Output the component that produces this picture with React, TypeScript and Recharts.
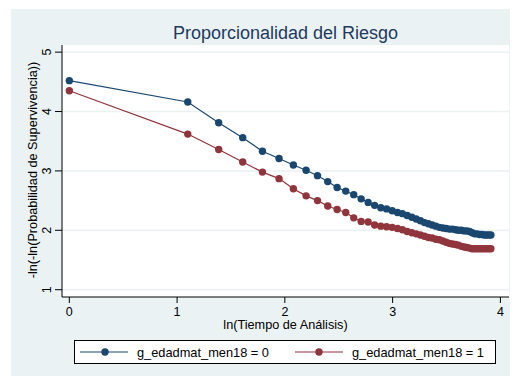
import { LineChart, Line, XAxis, YAxis, CartesianGrid } from 'recharts'

// ln(tiempo) para t = 1, 3, 4, ..., 50
const lnTiempo = [
  0, 1.099, 1.386, 1.609, 1.792, 1.946, 2.079, 2.197, 2.303, 2.398,
  2.485, 2.565, 2.639, 2.708, 2.773, 2.833, 2.890, 2.944, 2.996, 3.045,
  3.091, 3.135, 3.178, 3.219, 3.258, 3.296, 3.332, 3.367, 3.401, 3.434,
  3.466, 3.497, 3.526, 3.555, 3.584, 3.611, 3.638, 3.664, 3.689, 3.714,
  3.738, 3.761, 3.784, 3.807, 3.829, 3.850, 3.871, 3.892, 3.912,
]

// g_edadmat_men18 = 0
const grupo0 = [
  4.52, 4.16, 3.81, 3.56, 3.33, 3.21, 3.10, 3.01, 2.92, 2.82,
  2.72, 2.66, 2.60, 2.53, 2.47, 2.42, 2.38, 2.36, 2.33, 2.30,
  2.28, 2.25, 2.22, 2.19, 2.16, 2.13, 2.11, 2.09, 2.07, 2.05,
  2.04, 2.03, 2.02, 2.02, 2.01, 2.00, 2.00, 1.99, 1.99, 1.98,
  1.96, 1.94, 1.94, 1.93, 1.93, 1.92, 1.92, 1.92, 1.92,
]

// g_edadmat_men18 = 1
const grupo1 = [
  4.35, 3.62, 3.36, 3.15, 2.98, 2.87, 2.70, 2.58, 2.50, 2.41,
  2.35, 2.30, 2.21, 2.15, 2.14, 2.09, 2.07, 2.06, 2.05, 2.03,
  2.01, 1.98, 1.96, 1.94, 1.92, 1.90, 1.88, 1.87, 1.85, 1.84,
  1.82, 1.80, 1.78, 1.77, 1.76, 1.75, 1.73, 1.72, 1.71, 1.70,
  1.69, 1.69, 1.69, 1.69, 1.69, 1.69, 1.69, 1.69, 1.69,
]

const xTicks = [0, 1, 2, 3, 4]
const yTicks = [1, 2, 3, 4, 5]
const seriesNames = ['g_edadmat_men18 = 0', 'g_edadmat_men18 = 1']

const NAVY = '#1A476F'
const MAROON = '#90353B'
const FONT = '"Liberation Sans", Arial, sans-serif'

const data = lnTiempo.map((x, i) => ({ x, g0: grupo0[i], g1: grupo1[i] }))

const YTick = ({ y, payload }: any) => (
  <text
    transform={`translate(51,${y}) rotate(-90)`}
    textAnchor="middle"
    fontSize={12.5}
    fontFamily={FONT}
    fill="#000"
  >
    {payload.value}
  </text>
)

export default function App() {
  return (
    <div style={{ position: 'absolute', left: 0, top: 0, width: 516, height: 376, background: '#fff' }}>
      <div style={{ position: 'absolute', left: 11, top: 9, width: 499, height: 367, background: '#EAF2F3' }} />
      <div style={{ position: 'absolute', left: 0, top: 0 }}>
        <LineChart width={516} height={376} data={data} margin={{ top: 45, right: 7, bottom: 49, left: 0 }}>
          <CartesianGrid fill="#fff" vertical={false} stroke="#EAF2F3" strokeWidth={1.5} horizontalValues={yTicks} />
          <XAxis
            type="number"
            dataKey="x"
            domain={[-0.068, 4.08]}
            ticks={xTicks}
            allowDataOverflow
            height={30}
            tickSize={6}
            tickMargin={4}
            stroke="#000"
            tick={{ fill: '#000', fontSize: 12.5, fontFamily: FONT }}
          />
          <YAxis
            type="number"
            domain={[0.877, 5.12]}
            ticks={yTicks}
            allowDataOverflow
            width={62}
            tickSize={7}
            stroke="#000"
            tick={<YTick />}
          />
          <Line
            dataKey="g0"
            stroke={NAVY}
            strokeWidth={1.2}
            dot={{ r: 3.7, fill: NAVY, stroke: 'none' }}
            isAnimationActive={false}
          />
          <Line
            dataKey="g1"
            stroke={MAROON}
            strokeWidth={1.2}
            dot={{ r: 3.7, fill: MAROON, stroke: 'none' }}
            isAnimationActive={false}
          />
        </LineChart>
      </div>
      <svg width={516} height={376} style={{ position: 'absolute', left: 0, top: 0, pointerEvents: 'none' }} fontFamily={FONT}>
        <text x={285.5} y={39} textAnchor="middle" fontSize={18} fill="#1E3A5F">
          Proporcionalidad del Riesgo
        </text>
        <text x={285.5} y={329} textAnchor="middle" fontSize={12.7} fill="#000">
          ln(Tiempo de Análisis)
        </text>
        <text transform="translate(36.6,170) rotate(-90)" textAnchor="middle" fontSize={12.7} fill="#000">
          -ln(-ln(Probabilidad de Supervivencia))
        </text>
        <rect x={74.5} y={340.5} width={421} height={23} fill="#fff" stroke="#000" strokeWidth={1} />
        <line x1={80} y1={352} x2={128} y2={352} stroke={NAVY} strokeWidth={1.2} />
        <circle cx={105} cy={352} r={3.7} fill={NAVY} />
        <text x={137} y={356.5} fontSize={12.8} fill="#000">{seriesNames[0]}</text>
        <line x1={295} y1={352} x2={343} y2={352} stroke={MAROON} strokeWidth={1.2} />
        <circle cx={319} cy={352} r={3.7} fill={MAROON} />
        <text x={352} y={356.5} fontSize={12.8} fill="#000">{seriesNames[1]}</text>
      </svg>
    </div>
  )
}
